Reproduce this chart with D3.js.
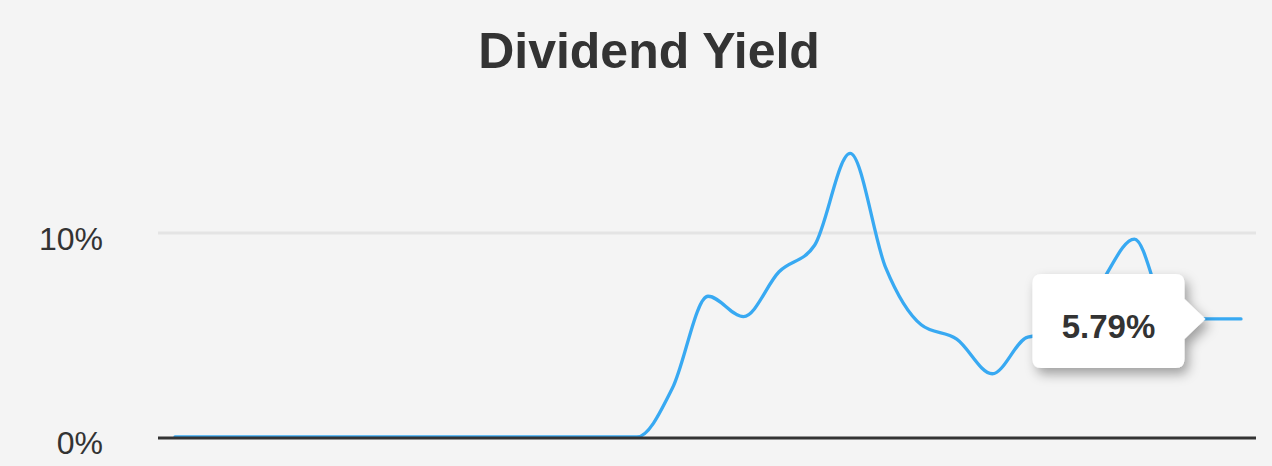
<!DOCTYPE html>
<html><head><meta charset="utf-8">
<script src="https://cdn.jsdelivr.net/npm/d3@7"></script>
<style>html,body{margin:0;padding:0;background:#f4f4f4;}svg{display:block;}</style>
</head><body>
<svg id="chart" width="1272" height="466"></svg>
<script>
const title = "Dividend Yield";
const periods = d3.range(31).map(i => "P" + (i + 1));
const yieldValues = [0,0,0,0,0,0,0,0,0,0,0,0,0,0,2.4,6.9,5.9,8.1,9.4,13.9,8.3,5.5,4.8,3.1,4.9,5.1,7.4,9.7,5.9,5.79,5.79];
const yTicks = [0, 10];
const tooltipIndex = 29;
const tooltipLabel = "5.79%";

const W = 1272, H = 466;
const plot = {left: 158, right: 1256, top: 100, bottom: 437};
const svg = d3.select("#chart");
const font = "'Liberation Sans', Arial, Helvetica, sans-serif";

svg.append("rect").attr("width", W).attr("height", H).attr("fill", "#f4f4f4");

const x = d3.scalePoint().domain(periods).range([175, 1241]);
const y = d3.scaleLinear().domain([0, 10]).range([plot.bottom, 233]);

// title
svg.append("text").attr("x", 649).attr("y", 68).attr("text-anchor", "middle")
  .attr("font-family", font).attr("font-weight", "bold").attr("font-size", 50)
  .attr("fill", "#333").text(title);

// gridlines
svg.append("g").selectAll("line").data(yTicks.filter(d => d !== 0)).join("line")
  .attr("x1", plot.left).attr("x2", plot.right)
  .attr("y1", d => y(d)).attr("y2", d => y(d))
  .attr("stroke", "#e4e4e4").attr("stroke-width", 3);

// y labels
svg.append("g").selectAll("text").data(yTicks).join("text")
  .attr("x", 103).attr("y", d => y(d) + 17).attr("text-anchor", "end")
  .attr("font-family", font).attr("font-size", 32).attr("fill", "#333")
  .text(d => d + "%");

// line
const line = d3.line().x((d, i) => x(periods[i])).y(d => y(d)).curve(d3.curveMonotoneX);
svg.append("path").datum(yieldValues).attr("d", line)
  .attr("fill", "none").attr("stroke", "#38a9f2").attr("stroke-width", 3.3)
  .attr("stroke-linejoin", "round").attr("stroke-linecap", "round");

// baseline
svg.append("line").attr("x1", plot.left).attr("x2", plot.right)
  .attr("y1", y(0) + 1).attr("y2", y(0) + 1)
  .attr("stroke", "#333").attr("stroke-width", 3);

// tooltip
const defs = svg.append("defs");
const f = defs.append("filter").attr("id", "shadow").attr("x", "-30%").attr("y", "-30%").attr("width", "160%").attr("height", "170%");
f.append("feDropShadow").attr("dx", 4).attr("dy", 6).attr("stdDeviation", 6)
  .attr("flood-color", "#000").attr("flood-opacity", 0.35);

const tipX = x(periods[tooltipIndex]);
const tipY = y(yieldValues[tooltipIndex]);
const bw = 152, bh = 94, r = 9, arrow = 21, ah = 20;
const bx1 = tipX - arrow, bx0 = bx1 - bw, by0 = tipY - bh / 2 + 2, by1 = by0 + bh;
const p = d3.path();
p.moveTo(bx0 + r, by0);
p.lineTo(bx1 - r, by0);
p.quadraticCurveTo(bx1, by0, bx1, by0 + r);
p.lineTo(bx1, tipY - ah);
p.lineTo(tipX, tipY);
p.lineTo(bx1, tipY + ah);
p.lineTo(bx1, by1 - r);
p.quadraticCurveTo(bx1, by1, bx1 - r, by1);
p.lineTo(bx0 + r, by1);
p.quadraticCurveTo(bx0, by1, bx0, by1 - r);
p.lineTo(bx0, by0 + r);
p.quadraticCurveTo(bx0, by0, bx0 + r, by0);
p.closePath();
svg.append("path").attr("d", p.toString()).attr("fill", "#fff").attr("filter", "url(#shadow)");
svg.append("text").attr("x", (bx0 + bx1) / 2).attr("y", tipY + 19)
  .attr("text-anchor", "middle").attr("font-family", font).attr("font-weight", "bold")
  .attr("font-size", 33).attr("fill", "#333").text(tooltipLabel);
</script>
</body></html>
